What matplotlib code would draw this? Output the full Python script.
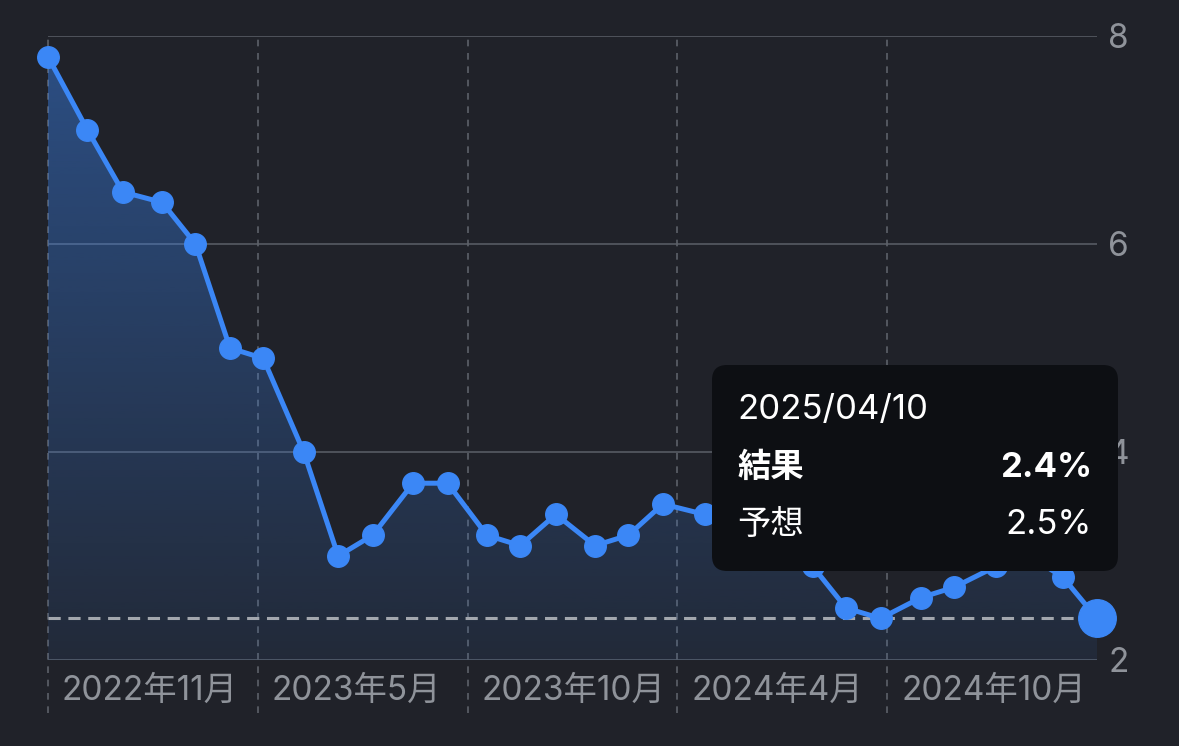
import numpy as np
import pandas as pd
import matplotlib
matplotlib.use("Agg")
import matplotlib.pyplot as plt
import matplotlib.dates as mdates
import matplotlib.transforms as mtransforms
from matplotlib.lines import Line2D
from matplotlib.patches import FancyBboxPatch

# 数字は Inter、漢字は Noto Sans CJK JP
plt.rcParams['font.family'] = ['Inter', 'Noto Sans CJK JP', 'DejaVu Sans']

# 発表日と結果 (%)
dates = ["2022-11-10", "2022-12-13", "2023-01-12", "2023-02-14", "2023-03-14",
         "2023-04-12", "2023-05-10", "2023-06-13", "2023-07-12", "2023-08-10",
         "2023-09-13", "2023-10-12", "2023-11-14", "2023-12-12", "2024-01-11",
         "2024-02-13", "2024-03-12", "2024-04-10", "2024-05-15", "2024-06-12",
         "2024-07-11", "2024-08-14", "2024-09-11", "2024-10-10", "2024-11-13",
         "2024-12-11", "2025-01-15", "2025-02-12", "2025-03-12", "2025-04-10"]
values = [7.8, 7.1, 6.5, 6.4, 6.0, 5.0, 4.9, 4.0, 3.0, 3.2,
          3.7, 3.7, 3.2, 3.1, 3.4, 3.1, 3.2, 3.5, 3.4, 3.3,
          3.0, 2.9, 2.5, 2.4, 2.6, 2.7, 2.9, 3.0, 2.8, 2.4]
x_labels = ["2022年11月", "2023年5月", "2023年10月", "2024年4月", "2024年10月"]
y_ticks = [2, 4, 6, 8]

tip_date = "2025/04/10"
tip_result = "2.4%"
tip_forecast = "2.5%"

# 色
bg = "#202229"
blue = "#3b87f6"
grid_col = "#4f535b"
vgrid_col = "#5d6169"
label_col = "#8f939a"

x = mdates.date2num(pd.to_datetime(dates))
y = np.array(values)

fig = plt.figure(figsize=(11.79, 7.46), dpi=100, facecolor=bg)
ax = fig.add_axes([48 / 1179, 86 / 746, 1049 / 1179, 624 / 746])
ax.set_facecolor(bg)
ax.set_xlim(x[0], x[-1])
ax.set_ylim(2, 8)

for s in ax.spines.values():
    s.set_visible(False)

# 横グリッド
for v in y_ticks:
    ax.axhline(v, color=grid_col, lw=1.4, zorder=1)

# 縦の点線 (期間を5等分)
ticks = [x[0] + k * (x[-1] - x[0]) / 5 for k in range(5)]
trans = mtransforms.blended_transform_factory(ax.transData, ax.transAxes)
for t, lab in zip(ticks, x_labels):
    ax.add_line(Line2D([t, t], [-0.085, 1.0], transform=trans, color=vgrid_col,
                       lw=1.2, ls=(0, (4, 4)), clip_on=False, zorder=1))
    ax.text(t, -0.05, lab, transform=mtransforms.offset_copy(trans, fig=fig, x=14, y=0, units='dots'),
            ha='left', va='center', color=label_col, fontsize=24)

ax.set_xticks([])
ax.yaxis.tick_right()
ax.set_yticks(y_ticks)
ax.set_yticklabels([str(v) for v in y_ticks])
ax.tick_params(axis='y', length=0, pad=8, labelsize=24, labelcolor=label_col)

# グラデーション塗り
poly = ax.fill_between(x, y, 2, color='none', lw=0)
grad = np.zeros((256, 1, 4))
rgb = matplotlib.colors.to_rgb(blue)
grad[:, 0, 0:3] = rgb
grad[:, 0, 3] = np.linspace(0.08, 0.45, 256)
img = ax.imshow(grad, extent=[x[0], x[-1], 2, 8], origin='lower', aspect='auto', zorder=2)
img.set_clip_path(poly.get_paths()[0], transform=ax.transData)

# 最新値の点線
ax.axhline(y[-1], color="#a3a7ae", lw=2.2, ls=(0, (4, 2.5)), zorder=3)

# 線とマーカー
ax.plot(x, y, color=blue, lw=3.6, marker='o', markersize=15.5, zorder=4, clip_on=False)
ax.plot(x[-1:], y[-1:], color=blue, marker='o', markersize=27, lw=0, zorder=5, clip_on=False)

# ツールチップ
box = FancyBboxPatch((7.12, 1.75), 4.06, 2.06, boxstyle="round,pad=0,rounding_size=0.15",
                     transform=fig.dpi_scale_trans, facecolor="#0d0f13", edgecolor='none', zorder=10)
fig.patches.append(box)
fig.text(7.37, 3.36, tip_date, transform=fig.dpi_scale_trans, color='white', fontsize=25,
         ha='left', va='center', zorder=11)
fig.text(7.37, 2.78, "結果", transform=fig.dpi_scale_trans, color='white', fontsize=24,
         fontweight='bold', ha='left', va='center', zorder=11)
fig.text(10.92, 2.78, tip_result, transform=fig.dpi_scale_trans, color='white', fontsize=25,
         fontweight='bold', ha='right', va='center', zorder=11)
fig.text(7.37, 2.21, "予想", transform=fig.dpi_scale_trans, color='white', fontsize=24,
         ha='left', va='center', zorder=11)
fig.text(10.92, 2.21, tip_forecast, transform=fig.dpi_scale_trans, color='white', fontsize=25,
         ha='right', va='center', zorder=11)

fig.savefig("out.png", dpi=100, facecolor=bg)
